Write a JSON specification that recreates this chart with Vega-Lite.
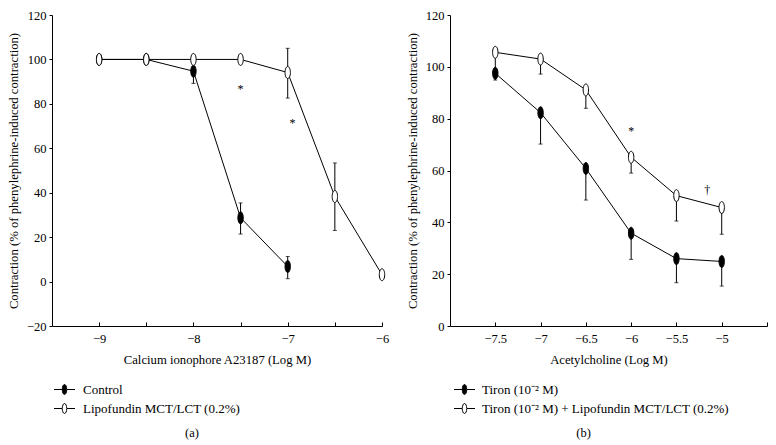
{
  "$schema": "https://vega.github.io/schema/vega-lite/v6.json",
  "background": "white",
  "padding": {"left": 7, "top": 9, "right": 0, "bottom": 0},
  "spacing": 17,
  "config": {
    "font": "Liberation Serif",
    "view": {"stroke": null},
    "axis": {
      "domainColor": "#000",
      "tickColor": "#000",
      "labelColor": "#000",
      "titleColor": "#000",
      "labelFont": "Liberation Serif",
      "titleFont": "Liberation Serif",
      "labelFontSize": 12.5,
      "titleFontSize": 12.7,
      "titleFontWeight": "normal",
      "grid": false,
      "domainWidth": 1,
      "tickWidth": 1
    },
    "title": {"font": "Liberation Serif", "fontSize": 12.5, "fontWeight": "normal", "color": "#000"}
  },
  "resolve": {"scale": {"x": "independent", "y": "independent", "fill": "independent"}, "legend": {"fill": "independent"}},
  "hconcat": [
    {
      "width": 330,
      "height": 311,
      "title": {"text": "(a)", "orient": "bottom", "offset": 11, "dx": -25},
      "data": {"values": [
        {"series": "Control", "x": -9, "y": 100},
        {"series": "Control", "x": -8.5, "y": 100},
        {"series": "Control", "x": -8, "y": 94.7, "lo": 89.2, "hi": 100.2},
        {"series": "Control", "x": -7.5, "y": 28.7, "lo": 21.4, "hi": 35.4},
        {"series": "Control", "x": -7, "y": 6.8, "lo": 1.3, "hi": 11.3},
        {"series": "Lipofundin MCT/LCT (0.2%)", "x": -9, "y": 100},
        {"series": "Lipofundin MCT/LCT (0.2%)", "x": -8.5, "y": 100},
        {"series": "Lipofundin MCT/LCT (0.2%)", "x": -8, "y": 100},
        {"series": "Lipofundin MCT/LCT (0.2%)", "x": -7.5, "y": 100},
        {"series": "Lipofundin MCT/LCT (0.2%)", "x": -7, "y": 94.1, "lo": 82.6, "hi": 105},
        {"series": "Lipofundin MCT/LCT (0.2%)", "x": -6.5, "y": 38.3, "lo": 23, "hi": 53.4},
        {"series": "Lipofundin MCT/LCT (0.2%)", "x": -6, "y": 3.1}
      ]},
      "encoding": {
        "x": {"field": "x", "type": "quantitative",
          "scale": {"domain": [-9.5, -6], "nice": false, "zero": false},
          "axis": {"title": "Calcium ionophore A23187 (Log M)", "values": [-9, -8.5, -8, -7.5, -7, -6.5, -6],
            "labelExpr": "datum.value % 1 == 0 ? format(datum.value, 'd') : ''",
            "tickSize": -4, "labelPadding": 10, "titlePadding": 9, "labelFlush": false}},
        "y": {"field": "y", "type": "quantitative",
          "scale": {"domain": [-20, 120], "nice": false, "zero": false},
          "axis": {"title": "Contraction (% of phenylephrine-induced contraction)", "values": [-20, 0, 20, 40, 60, 80, 100, 120],
            "tickSize": 3, "labelPadding": 3, "titlePadding": 6}}
      },
      "layer": [
        {"mark": {"type": "line", "color": "#000", "strokeWidth": 1}, "encoding": {"detail": {"field": "series"}, "order": {"field": "x"}}},
        {"mark": {"type": "rule", "color": "#000", "strokeWidth": 1}, "encoding": {"y": {"field": "lo", "type": "quantitative"}, "y2": {"field": "hi"}}},
        {"mark": {"type": "tick", "orient": "horizontal", "color": "#000", "size": 4, "thickness": 1}, "encoding": {"y": {"field": "lo", "type": "quantitative"}}},
        {"mark": {"type": "tick", "orient": "horizontal", "color": "#000", "size": 4, "thickness": 1}, "encoding": {"y": {"field": "hi", "type": "quantitative"}}},
        {"mark": {"type": "point", "filled": true, "opacity": 1, "stroke": "#000", "strokeWidth": 1, "size": 144,
            "shape": "M0,-1A0.45,1 0 1,1 0,1A0.45,1 0 1,1 0,-1Z"},
          "encoding": {"fill": {"field": "series", "type": "nominal",
            "scale": {"domain": ["Control", "Lipofundin MCT/LCT (0.2%)"], "range": ["#000", "#fff"]},
            "legend": {"orient": "none", "legendX": 6, "legendY": 368, "title": null,
              "symbolType": "M-2.1,0L-0.5,0M0.5,0L2.1,0M0,-1A0.45,1 0 1,1 0,1A0.45,1 0 1,1 0,-1Z",
              "symbolSize": 100, "symbolStrokeColor": "#000", "symbolStrokeWidth": 1, "symbolOpacity": 1,
              "labelFont": "Liberation Serif", "labelFontSize": 13, "labelColor": "#000", "labelOffset": 12, "rowPadding": 4}}}},
        {"data": {"values": [{"x": -7.5, "y": 86.6, "t": "*"}, {"x": -6.95, "y": 71.6, "t": "*"}]},
          "mark": {"type": "text", "fontSize": 12, "fill": "#000", "color": "#000", "baseline": "middle"},
          "encoding": {"text": {"field": "t"}}}
      ]
    },
    {
      "width": 317,
      "height": 311,
      "title": {"text": "(b)", "orient": "bottom", "offset": 11, "dx": -25},
      "data": {"values": [
        {"series": "Tiron (10⁻² M)", "x": -7.5, "y": 97.5, "lo": 94.9, "hi": 97.5},
        {"series": "Tiron (10⁻² M)", "x": -7, "y": 82.3, "lo": 70.2, "hi": 82.3},
        {"series": "Tiron (10⁻² M)", "x": -6.5, "y": 60.8, "lo": 48.6, "hi": 60.8},
        {"series": "Tiron (10⁻² M)", "x": -6, "y": 35.8, "lo": 25.7, "hi": 35.8},
        {"series": "Tiron (10⁻² M)", "x": -5.5, "y": 26.0, "lo": 16.7, "hi": 26.0},
        {"series": "Tiron (10⁻² M)", "x": -5, "y": 24.9, "lo": 15.4, "hi": 24.9},
        {"series": "Tiron (10⁻² M) + Lipofundin MCT/LCT (0.2%)", "x": -7.5, "y": 105.6, "lo": 97.5, "hi": 105.6},
        {"series": "Tiron (10⁻² M) + Lipofundin MCT/LCT (0.2%)", "x": -7, "y": 103, "lo": 97.2, "hi": 103},
        {"series": "Tiron (10⁻² M) + Lipofundin MCT/LCT (0.2%)", "x": -6.5, "y": 91.1, "lo": 84, "hi": 91.1},
        {"series": "Tiron (10⁻² M) + Lipofundin MCT/LCT (0.2%)", "x": -6, "y": 65.1, "lo": 59, "hi": 65.1},
        {"series": "Tiron (10⁻² M) + Lipofundin MCT/LCT (0.2%)", "x": -5.5, "y": 50.3, "lo": 40.5, "hi": 50.3},
        {"series": "Tiron (10⁻² M) + Lipofundin MCT/LCT (0.2%)", "x": -5, "y": 45.7, "lo": 35.4, "hi": 45.7}
      ]},
      "encoding": {
        "x": {"field": "x", "type": "quantitative",
          "scale": {"domain": [-8, -4.5], "nice": false, "zero": false},
          "axis": {"title": "Acetylcholine (Log M)", "values": [-7.5, -7, -6.5, -6, -5.5, -5, -4.5],
            "labelExpr": "datum.value == -4.5 ? '' : format(datum.value, '~g')",
            "tickSize": -4, "labelPadding": 10, "titlePadding": 9, "labelFlush": false}},
        "y": {"field": "y", "type": "quantitative",
          "scale": {"domain": [0, 120], "nice": false, "zero": false},
          "axis": {"title": "Contraction (% of phenylephrine-induced contraction)", "values": [0, 20, 40, 60, 80, 100, 120],
            "tickSize": 3, "labelPadding": 3, "titlePadding": 6}}
      },
      "layer": [
        {"mark": {"type": "line", "color": "#000", "strokeWidth": 1}, "encoding": {"detail": {"field": "series"}, "order": {"field": "x"}}},
        {"mark": {"type": "rule", "color": "#000", "strokeWidth": 1}, "encoding": {"y": {"field": "lo", "type": "quantitative"}, "y2": {"field": "hi"}}},
        {"mark": {"type": "tick", "orient": "horizontal", "color": "#000", "size": 4, "thickness": 1}, "encoding": {"y": {"field": "lo", "type": "quantitative"}}},
        {"mark": {"type": "point", "filled": true, "opacity": 1, "stroke": "#000", "strokeWidth": 1, "size": 144,
            "shape": "M0,-1A0.45,1 0 1,1 0,1A0.45,1 0 1,1 0,-1Z"},
          "encoding": {"fill": {"field": "series", "type": "nominal",
            "scale": {"domain": ["Tiron (10⁻² M)", "Tiron (10⁻² M) + Lipofundin MCT/LCT (0.2%)"], "range": ["#000", "#fff"]},
            "legend": {"orient": "none", "legendX": 8, "legendY": 368, "title": null,
              "symbolType": "M-2.1,0L-0.5,0M0.5,0L2.1,0M0,-1A0.45,1 0 1,1 0,1A0.45,1 0 1,1 0,-1Z",
              "symbolSize": 100, "symbolStrokeColor": "#000", "symbolStrokeWidth": 1, "symbolOpacity": 1,
              "labelFont": "Liberation Serif", "labelFontSize": 13, "labelColor": "#000", "labelOffset": 11, "rowPadding": 4, "labelLimit": 400}}}},
        {"data": {"values": [{"x": -6, "y": 75.2, "t": "*"}, {"x": -5.16, "y": 52.5, "t": "†"}]},
          "mark": {"type": "text", "fontSize": 12, "fill": "#000", "color": "#000", "baseline": "middle"},
          "encoding": {"text": {"field": "t"}}}
      ]
    }
  ]
}
